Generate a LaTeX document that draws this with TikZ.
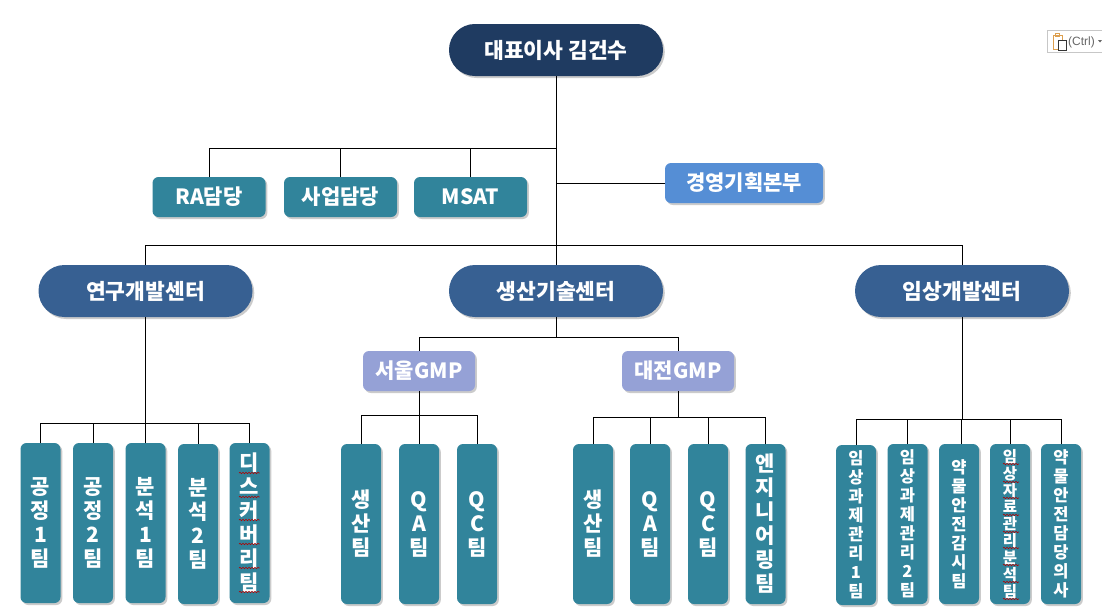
\documentclass[tikz,border=0pt]{standalone}
\usepackage{fontspec}
\setmainfont{Noto Sans CJK KR}
\newfontfamily\uifont{Liberation Sans}
\usetikzlibrary{shadows,decorations.pathmorphing}
\lineskiplimit=-30pt
\newcommand{\liftup}[1]{\raisebox{1.5pt}{#1}}
\definecolor{topnavy}{HTML}{1F3B61}
\definecolor{centerblue}{HTML}{376092}
\definecolor{teal}{HTML}{31849B}
\definecolor{planblue}{HTML}{558ED5}
\definecolor{gmpblue}{HTML}{95A1D6}
\definecolor{clipboard}{HTML}{DDA050}
\tikzset{
  x=1pt,y=-1pt,
  softshadow/.style={drop shadow={shadow xshift=1.8pt,shadow yshift=-2pt,fill=black!40,opacity=.5}},
  boxbase/.style={inner sep=0pt,outer sep=0pt,text=white,align=center,softshadow},
  pill/.style={boxbase,rounded corners=25.9pt,minimum width=214pt,minimum height=52pt,fill=centerblue,font=\fontsize{21.5}{24}\selectfont\bfseries},
  headbox/.style={boxbase,rounded corners=6pt,minimum width=113pt,minimum height=40pt,fill=teal,font=\fontsize{21}{24}\selectfont\bfseries},
  tallbox/.style={boxbase,rounded corners=6pt,minimum width=40pt,minimum height=160pt,fill=teal,font=\fontsize{21}{24}\selectfont\bfseries},
  narrowbox/.style={tallbox,font=\fontsize{16.5}{19}\selectfont\bfseries},
  densebox/.style={tallbox,font=\fontsize{15.5}{16.9}\selectfont\bfseries},
  link/.style={draw=black,line width=.9pt},
  spellwave/.style={draw=red!70!black,line width=.6pt,decorate,decoration={snake,amplitude=.7pt,segment length=3pt}}
}
\begin{document}
\begin{tikzpicture}
\useasboundingbox (0,0) rectangle (1102,614);
\fill[white] (0,0) rectangle (1102,614);

% bus coordinates
\coordinate (busA) at (556,148);
\coordinate (busP) at (556,183);
\coordinate (busB) at (556,245);
\coordinate (busR) at (145.5,423);
\coordinate (busC) at (556,337);
\coordinate (busS) at (419,415);
\coordinate (busD) at (678,417);
\coordinate (busK) at (962,419);
\coordinate (k3drop) at (961,444);

\node[pill,fill=topnavy] (ceo) at (556,50) {\liftup{대표이사 김건수}};
\node[headbox] (ra) at (209,197) {\liftup{RA담당}};
\node[headbox] (biz) at (340.5,197) {\liftup{사업담당}};
\node[headbox] (msat) at (470.5,197) {MSAT};
\node[headbox,fill=planblue,minimum width=158pt] (plan) at (744,183) {\liftup{경영기획본부}};
\node[pill] (rnd) at (145.5,291) {\liftup{연구개발센터}};
\node[pill] (prod) at (556,291) {\liftup{생산기술센터}};
\node[pill] (clin) at (962,291) {\liftup{임상개발센터}};
\node[headbox,fill=gmpblue,minimum width=112pt] (seoul) at (419,371) {서울GMP};
\node[headbox,fill=gmpblue,minimum width=112pt] (daejeon) at (678,371) {대전GMP};

\node[tallbox] (r1) at (40.5,523) {공\\정\\1\\팀};
\node[tallbox] (r2) at (93,523) {공\\정\\2\\팀};
\node[tallbox] (r3) at (145.5,523) {분\\석\\1\\팀};
\node[tallbox] (r4) at (198,524) {분\\석\\2\\팀};
\node[tallbox] (r5) at (249.5,523) {디\\스\\커\\버\\리\\팀};

\node[tallbox] (s1) at (361,524) {생\\산\\팀};
\node[tallbox] (s2) at (419,524) {Q\\A\\팀};
\node[tallbox] (s3) at (477,524) {Q\\C\\팀};

\node[tallbox] (d1) at (593,524) {생\\산\\팀};
\node[tallbox] (d2) at (650,524) {Q\\A\\팀};
\node[tallbox] (d3) at (708,524) {Q\\C\\팀};
\node[tallbox] (d4) at (765.5,524) {엔\\지\\니\\어\\링\\팀};

\node[narrowbox] (k1) at (856,525) {임\\상\\과\\제\\관\\리\\1\\팀};
\node[narrowbox] (k2) at (907.5,524) {임\\상\\과\\제\\관\\리\\2\\팀};
\node[narrowbox] (k3) at (959,524) {약\\물\\안\\전\\감\\시\\팀};
\node[densebox] (k4) at (1010,524) {임\\상\\자\\료\\관\\리\\분\\석\\팀};
\node[narrowbox] (k5) at (1061,524) {약\\물\\안\\전\\담\\당\\의\\사};

% connectors
\draw[link] (ceo.south) -- (prod.north);
\draw[link] (ra.north) |- (busA);
\draw[link] (biz.north) -- (biz.north |- busA);
\draw[link] (msat.north) -- (msat.north |- busA);
\draw[link] (plan.west) -- (busP);
\draw[link] (rnd.north) |- (busB);
\draw[link] (clin.north) |- (busB);
\draw[link] (rnd.south) -- (r3.north);
\draw[link] (r1.north) |- (busR);
\draw[link] (r2.north) -- (r2.north |- busR);
\draw[link] (r4.north) -- (r4.north |- busR);
\draw[link] (r5.north) |- (busR);
\draw[link] (prod.south) -- (busC);
\draw[link] (seoul.north) |- (busC);
\draw[link] (daejeon.north) |- (busC);
\draw[link] (seoul.south) -- (s2.north);
\draw[link] (s1.north) |- (busS);
\draw[link] (s3.north) |- (busS);
\draw[link] (daejeon.south) -- (busD);
\draw[link] (d1.north) |- (busD);
\draw[link] (d2.north) -- (d2.north |- busD);
\draw[link] (d3.north) -- (d3.north |- busD);
\draw[link] (d4.north) |- (busD);
\draw[link] (clin.south) -- (busK);
\draw[link] (k1.north) |- (busK);
\draw[link] (k2.north) -- (k2.north |- busK);
\draw[link] (k3drop) -- (k3drop |- busK);
\draw[link] (k4.north) -- (k4.north |- busK);
\draw[link] (k5.north) |- (busK);

% spell-check underlines
\foreach \yy in {473,497,520,544,568,592} \draw[spellwave] (239,\yy) -- (259.5,\yy);
\foreach \yy in {464,482,498,515,532,548,565,582,599} \draw[spellwave] (1003,\yy) -- (1019,\yy);

% paste-options tag
\draw[draw=black!22,fill=white,line width=.8pt] (1047,30) rectangle (1112,52);
\node[inner sep=0pt,anchor=west,text=black!60,font=\uifont\fontsize{12}{14}\selectfont] (ctrl) at (1068,42.5) {(Ctrl)};
\draw[draw=clipboard,line width=.9pt] (1053,35) rectangle (1062,49);
\draw[draw=clipboard,line width=.9pt] (1055.5,33.5) rectangle (1059.5,36);
\draw[draw=black!80,fill=white,line width=.7pt] (1058,40) rectangle (1066,50);
\fill[black!60] (1098,40) -- (1102,40) -- (1100,42.5) -- cycle;
\end{tikzpicture}
\end{document}
